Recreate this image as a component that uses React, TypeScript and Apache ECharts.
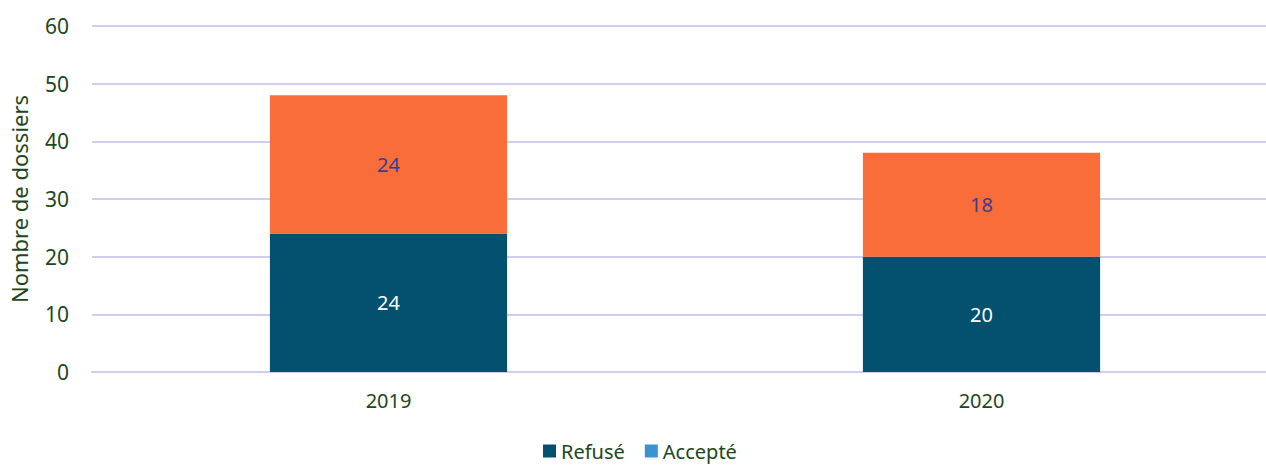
import React, { useEffect, useRef } from "react";
import * as echarts from "echarts";

const categories = ["2019", "2020"];
const refuse = [24, 20];
const accepte = [24, 18];
const yTicks = { min: 0, max: 60, interval: 10 };

const TEXT = "#1e4620";
const FONT = "Noto Sans";

export default function App() {
  const ref = useRef<HTMLDivElement>(null);
  useEffect(() => {
    if (!ref.current) return;
    const chart = echarts.init(ref.current, undefined, { renderer: "svg" });
    chart.setOption({
      animation: false,
      textStyle: { fontFamily: FONT },
      grid: { left: 90, right: 0, top: 26, bottom: 94, containLabel: false },
      legend: {
        top: 439,
        left: 543,
        padding: 0,
        itemWidth: 13,
        itemHeight: 13,
        itemGap: 20,
        icon: "rect",
        textStyle: { color: TEXT, fontSize: 20, fontFamily: FONT, lineHeight: 24 },
        data: [
          { name: "Refusé", itemStyle: { color: "#03506f" } },
          { name: "Accepté", itemStyle: { color: "#3a94d0" } },
        ],
      },
      xAxis: {
        type: "category",
        data: categories,
        axisLine: { show: true, lineStyle: { color: "#d0cdee", width: 2 } },
        axisTick: { show: false },
        axisLabel: { color: TEXT, fontSize: 20, margin: 18, fontFamily: FONT },
      },
      yAxis: {
        type: "value",
        min: yTicks.min,
        max: yTicks.max,
        interval: yTicks.interval,
        name: "Nombre de dossiers",
        nameLocation: "middle",
        nameGap: 62,
        nameTextStyle: { color: TEXT, fontSize: 22, fontFamily: FONT },
        axisLine: { show: false },
        axisTick: { show: false },
        axisLabel: { color: TEXT, fontSize: 21, margin: 23, fontFamily: FONT },
        splitLine: { lineStyle: { color: "#d0cdee", width: 2 } },
      },
      series: [
        {
          name: "Refusé",
          type: "bar",
          stack: "total",
          barWidth: "40%",
          data: refuse,
          itemStyle: { color: "#03506f" },
          label: { show: true, position: "inside", color: "#ffffff", fontSize: 20, fontFamily: FONT },
        },
        {
          name: "Accepté",
          type: "bar",
          stack: "total",
          barWidth: "40%",
          data: accepte,
          itemStyle: { color: "#f96d3a" },
          label: { show: true, position: "inside", color: "#353f8f", fontSize: 20, fontFamily: FONT },
        },
      ],
    });
    return () => chart.dispose();
  }, []);
  return (
    <div
      style={{ position: "fixed", left: 0, top: 0, width: 1266, height: 466, overflow: "hidden", background: "#fff" }}
    >
      <div ref={ref} style={{ width: 1278, height: 466 }} />
    </div>
  );
}
